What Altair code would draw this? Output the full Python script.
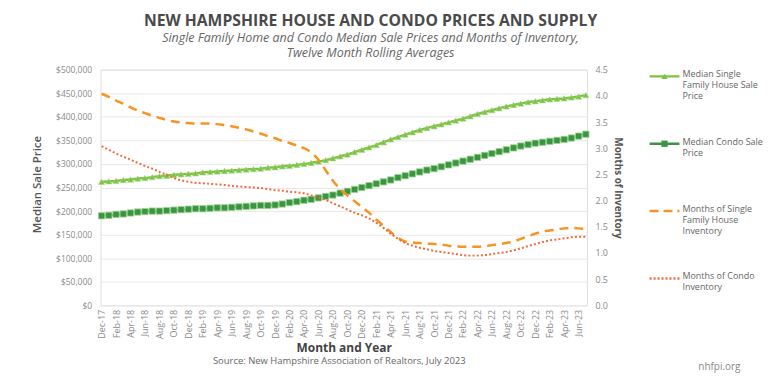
import altair as alt
import pandas as pd

months = list(pd.date_range("2017-12-01", periods=68, freq="MS").strftime("%b-%y"))

sf_price = [262, 263, 264, 266, 267, 269, 270, 272, 274, 275, 277, 278,
            279, 280, 282, 283, 284, 285, 286, 287, 288, 289, 290, 292,
            293, 295, 296, 298, 300, 302, 305, 308, 312, 316, 320, 325,
            330, 335, 340, 346, 352, 357, 362, 367, 372, 376, 380, 384,
            388, 392, 396, 401, 406, 410, 414, 418, 422, 425, 428, 431,
            433, 435, 437, 438, 439, 441, 443, 446]
condo_price = [190, 191, 193, 194, 196, 198, 199, 200, 200, 201, 202, 203,
               204, 205, 205, 206, 207, 207, 208, 209, 210, 211, 212, 212,
               213, 215, 218, 220, 223, 225, 228, 231, 234, 238, 242, 246,
               250, 254, 258, 262, 266, 271, 275, 279, 283, 287, 290, 294,
               298, 302, 306, 310, 314, 318, 322, 326, 330, 334, 338, 341,
               344, 346, 348, 350, 352, 355, 359, 363]
sf_inventory = [4.04, 3.98, 3.91, 3.85, 3.78, 3.72, 3.67, 3.62, 3.58, 3.54, 3.51, 3.49,
                3.48, 3.47, 3.47, 3.47, 3.46, 3.44, 3.42, 3.39, 3.36, 3.32, 3.28, 3.23,
                3.19, 3.14, 3.10, 3.05, 3.00, 2.92, 2.78, 2.58, 2.38, 2.22, 2.10, 1.99,
                1.88, 1.77, 1.64, 1.52, 1.40, 1.29, 1.22, 1.20, 1.19, 1.18, 1.17, 1.16,
                1.14, 1.13, 1.12, 1.12, 1.12, 1.13, 1.15, 1.17, 1.19, 1.22, 1.27, 1.32,
                1.37, 1.41, 1.43, 1.45, 1.47, 1.48, 1.47, 1.46]
condo_inventory = [3.04, 2.97, 2.90, 2.84, 2.78, 2.72, 2.66, 2.61, 2.55, 2.49, 2.43, 2.39,
                   2.36, 2.34, 2.33, 2.32, 2.31, 2.30, 2.28, 2.27, 2.26, 2.25, 2.24, 2.22,
                   2.20, 2.19, 2.17, 2.16, 2.14, 2.10, 2.06, 2.01, 1.95, 1.89, 1.83, 1.77,
                   1.72, 1.66, 1.58, 1.48, 1.37, 1.27, 1.19, 1.14, 1.10, 1.07, 1.04, 1.02,
                   1.00, 0.98, 0.96, 0.95, 0.95, 0.96, 0.98, 1.00, 1.02, 1.05, 1.09, 1.13,
                   1.17, 1.21, 1.24, 1.26, 1.28, 1.30, 1.31, 1.31]

price_ticks = list(range(0, 500001, 50000))
inventory_ticks = [0, 0.5, 1, 1.5, 2, 2.5, 3, 3.5, 4, 4.5]

series_keys = ["sfp", "cp", "sfi", "ci"]
series_labels = ["Median Single\nFamily House Sale\nPrice",
                 "Median Condo Sale\nPrice",
                 "Months of Single\nFamily House\nInventory",
                 "Months of Condo\nInventory"]

source_text = "Source: New Hampshire Association of Realtors, July 2023"
site_text = "nhfpi.org"

LG = "#7DC242"
DG = "#3A9443"
OR = "#F7931E"
SA = "#F26B3B"
FONT = "Open Sans"
GRAY = "#8a8a8a"
W, H = 489, 237

df = pd.DataFrame({
    "month": months,
    "sf_price": [v * 1000 for v in sf_price],
    "condo_price": [v * 1000 for v in condo_price],
    "sf_inv": sf_inventory,
    "condo_inv": condo_inventory,
})

base = alt.Chart(df)

x = alt.X("month:O", sort=months,
          scale=alt.Scale(type="point", padding=0.15),
          axis=alt.Axis(values=months[::2], labelAngle=-90, labelFontSize=9,
                        labelColor=GRAY, labelFont=FONT, labelPadding=4,
                        ticks=False, domain=False, grid=False,
                        title="Month and Year", titleFontSize=12, titleFont=FONT,
                        titleFontWeight="bold", titleColor="#444", titlePadding=4))

price_scale = alt.Scale(domain=[0, 500000])
left_axis = alt.Axis(values=price_ticks, format="$,.0f", labelFontSize=8.5,
                     labelColor=GRAY, labelFont=FONT, labelPadding=9,
                     ticks=False, domain=False, grid=True, gridColor="#e8e8e8",
                     title="Median Sale Price", titleFontSize=11.5, titleFont=FONT,
                     titleFontWeight=600, titleColor="#555", titlePadding=13,
                     titleY=115)

inv_scale = alt.Scale(domain=[0, 4.5])
right_axis = alt.Axis(orient="right", values=inventory_ticks, format=".1f",
                      labelFontSize=9, labelColor=GRAY, labelFont=FONT,
                      labelPadding=8, ticks=False, domain=False, grid=False,
                      title="Months of Inventory", titleFontSize=10, titleFont=FONT,
                      titleFontWeight="bold", titleColor="#555", titlePadding=5)

y_sf = alt.Y("sf_price:Q", scale=price_scale, axis=left_axis)
y_cp = alt.Y("condo_price:Q", scale=price_scale, axis=left_axis)

sf_line = base.mark_line(color=LG, strokeWidth=2.5, interpolate="monotone").encode(x=x, y=y_sf)
sf_pts = base.mark_point(shape="triangle-up", filled=True, size=38, color=LG,
                         opacity=1, stroke="#a9d98a", strokeWidth=0.6).encode(x=x, y=y_sf)
cp_line = base.mark_line(color=DG, strokeWidth=2.5, interpolate="monotone").encode(x=x, y=y_cp)
cp_pts = base.mark_square(size=40, color=DG, opacity=1, stroke="#9ed58f",
                          strokeWidth=0.8).encode(x=x, y=y_cp)

y_si = alt.Y("sf_inv:Q", scale=inv_scale, axis=right_axis)
y_ci = alt.Y("condo_inv:Q", scale=inv_scale, axis=right_axis)

si_line = base.mark_line(color=OR, strokeWidth=2.5, strokeDash=[9, 6],
                         interpolate="monotone").encode(x=x, y=y_si)
ci_line = base.mark_line(color=SA, strokeWidth=2, strokeDash=[2, 2.2],
                         interpolate="monotone").encode(x=x, y=y_ci)

# Legend (drawn beside the plot area)
leg_df = pd.DataFrame({"series": series_keys, "label": series_labels})
leg_y = alt.Y("series:N", sort=series_keys,
              scale=alt.Scale(type="point", domain=series_keys, padding=0.25, align=0.2),
              axis=None)
leg_color = alt.Color("series:N", scale=alt.Scale(domain=series_keys, range=[LG, DG, OR, SA]),
                      legend=None)
leg_base = alt.Chart(leg_df)
leg_rule = leg_base.mark_rule(strokeWidth=2.5).encode(
    x=alt.value(W + 63), x2=alt.value(W + 93), y=leg_y, color=leg_color,
    strokeDash=alt.StrokeDash("series:N", scale=alt.Scale(domain=series_keys,
                              range=[[1, 0], [1, 0], [9, 5], [2, 2]]), legend=None),
)
leg_pts = leg_base.transform_filter(
    alt.FieldOneOfPredicate(field="series", oneOf=["sfp", "cp"])
).mark_point(filled=True, size=40, opacity=1).encode(
    x=alt.value(W + 78), y=leg_y, color=leg_color,
    shape=alt.Shape("series:N", scale=alt.Scale(domain=["sfp", "cp"],
                    range=["triangle-up", "square"]), legend=None),
)
leg_text = leg_base.mark_text(align="left", baseline="top", dy=-6, lineBreak="\n",
                              fontSize=9, lineHeight=11, font=FONT, color="#666").encode(
    x=alt.value(W + 96), y=leg_y, text="label:N")
legend_layer = alt.layer(leg_rule, leg_pts, leg_text)

notes_df = pd.DataFrame({"source": [source_text], "site": [site_text]})
source_mark = alt.Chart(notes_df).mark_text(
    align="center", baseline="middle", fontSize=9.5, font=FONT, color="#666"
).encode(x=alt.value(240), y=alt.value(H + 56), text="source:N")
site_mark = alt.Chart(notes_df).mark_text(
    align="left", baseline="middle", fontSize=10, font=FONT, color="#888"
).encode(x=alt.value(W + 112), y=alt.value(H + 62), text="site:N")

chart = alt.layer(
    alt.layer(sf_line, sf_pts, cp_line, cp_pts),
    alt.layer(si_line, ci_line),
    legend_layer,
    alt.layer(source_mark, site_mark),
).resolve_scale(y="independent").properties(
    width=W, height=H,
    padding={"left": 23, "top": 3, "right": 0, "bottom": 0},
    title=alt.TitleParams("NEW HAMPSHIRE HOUSE AND CONDO PRICES AND SUPPLY",
                          subtitle=["Single Family Home and Condo Median Sale Prices and Months of Inventory,",
                                    "Twelve Month Rolling Averages"],
                          fontSize=15.8, font=FONT, fontWeight="bold", color="#4a4a4a",
                          subtitleFont=FONT, subtitleFontSize=12.5, subtitleFontStyle="italic",
                          subtitleColor="#666", subtitleLineHeight=15, subtitlePadding=3,
                          anchor="middle", frame="group", dx=27, offset=5),
).configure_view(stroke="transparent", strokeWidth=0).configure(background="white")

chart.save("out.html", embed_options={"renderer": "svg", "actions": False})
